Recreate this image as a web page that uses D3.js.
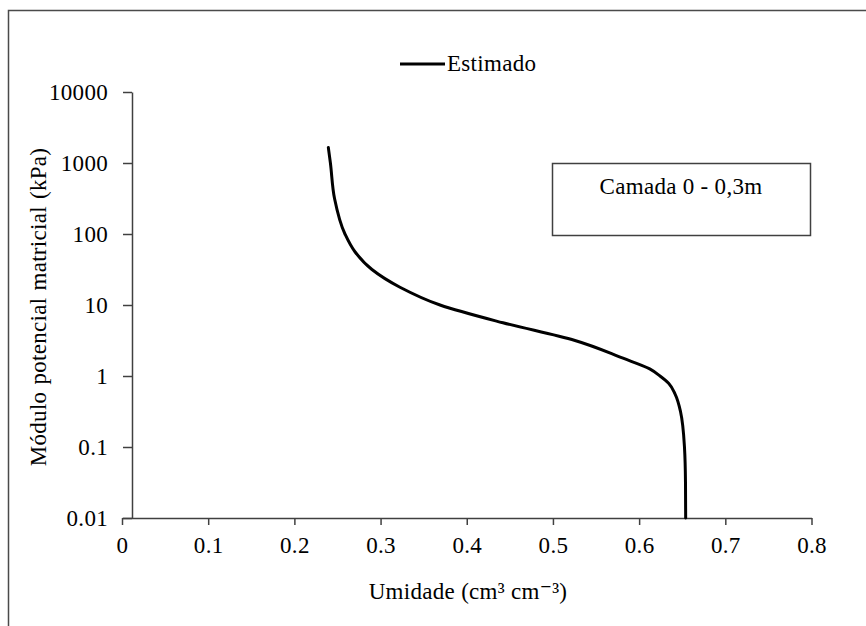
<!DOCTYPE html>
<html>
<head>
<meta charset="utf-8">
<script src="https://cdn.jsdelivr.net/npm/d3@7"></script>
<style>
  html, body { margin: 0; padding: 0; background: #fff; }
  svg { display: block; }
  svg text { font-family: "Times New Roman", "Liberation Serif", Tinos, "DejaVu Serif", "Noto Serif", serif !important; letter-spacing: 0.3px; }
</style>
</head>
<body>
<svg id="chart" width="866" height="626"></svg>
<script>
// Retention curve, layer 0 - 0.3 m: volumetric water content vs |matric potential|
const potencial = [1650, 1000, 316, 100, 56.2, 31.6, 17.8, 10, 5.62, 3.16,
                   1.78, 1.26, 1, 0.79, 0.56, 0.316, 0.1, 0.0316, 0.01];
const umidade   = [0.2394, 0.2418, 0.2466, 0.2587, 0.2703, 0.2900, 0.3225, 0.3690, 0.4420, 0.5256,
                   0.5813, 0.6123, 0.6242, 0.6342, 0.6416, 0.6480, 0.6526, 0.6538, 0.6540];

const xTicks = [0, 0.1, 0.2, 0.3, 0.4, 0.5, 0.6, 0.7, 0.8];
const yTicks = [0.01, 0.1, 1, 10, 100, 1000, 10000];
const yTickLabels = ["0.01", "0.1", "1", "10", "100", "1000", "10000"];
const yAxisCrossesAt = 0.0116;

const serieNome = "Estimado";
const camadaTexto = "Camada 0 - 0,3m";
const xTitulo = "Umidade (cm³ cm⁻³)";
const yTitulo = "Módulo potencial matricial (kPa)";

const svg = d3.select("#chart");
const axisColor = "#404040";
const fontSize = 23;

// outer frame
svg.append("rect")
  .attr("x", 8.5).attr("y", 10.5)
  .attr("width", 900).attr("height", 700)
  .attr("fill", "none").attr("stroke", "#4a4a4a").attr("stroke-width", 1.5);

const x = d3.scaleLinear().domain([0, 0.8]).range([122, 811.5]);
const y = d3.scaleLog().domain([0.01, 10000]).range([518, 92]);

// x axis
const xAxis = svg.append("g").attr("transform", `translate(0,${y(0.01)})`)
  .call(d3.axisBottom(x).tickValues(xTicks).tickFormat(d => String(d)).tickSize(7).tickSizeOuter(0));
xAxis.attr("font-family", null);
xAxis.select(".domain").attr("stroke", axisColor).attr("stroke-width", 1.5);
xAxis.selectAll(".tick line").attr("stroke", axisColor).attr("stroke-width", 1.5);
xAxis.selectAll(".tick text")
  .attr("fill", "#000").attr("font-size", fontSize)
  .attr("y", 0).attr("dy", null).attr("transform", "translate(0,35)");

// y axis
const yAxis = svg.append("g").attr("transform", `translate(${x(yAxisCrossesAt)},0)`)
  .call(d3.axisLeft(y).tickValues(yTicks).tickFormat((d, i) => yTickLabels[i]).tickSize(9).tickSizeOuter(0));
yAxis.attr("font-family", null);
yAxis.select(".domain").attr("stroke", axisColor).attr("stroke-width", 1.5);
yAxis.selectAll(".tick line").attr("stroke", axisColor).attr("stroke-width", 1.5);
yAxis.selectAll(".tick text")
  .attr("fill", "#000").attr("font-size", fontSize)
  .attr("x", -24).attr("dy", "0.33em");

// curve
const pts = umidade.map((u, i) => [u, potencial[i]]);
const line = d3.line().x(d => x(d[0])).y(d => y(d[1])).curve(d3.curveMonotoneY);
svg.append("path").datum(pts)
  .attr("d", line)
  .attr("fill", "none").attr("stroke", "#000").attr("stroke-width", 3)
  .attr("stroke-linecap", "round").attr("stroke-linejoin", "round");

// legend
svg.append("line")
  .attr("x1", 400).attr("x2", 445).attr("y1", 64).attr("y2", 64)
  .attr("stroke", "#000").attr("stroke-width", 3);
svg.append("text").attr("x", 447).attr("y", 71)
  .attr("font-size", fontSize).attr("fill", "#000").text(serieNome);

// layer annotation box
svg.append("rect")
  .attr("x", 552.5).attr("y", 163.5).attr("width", 258).attr("height", 72)
  .attr("fill", "#fff").attr("stroke", axisColor).attr("stroke-width", 1.5);
svg.append("text").attr("x", 681).attr("y", 194).attr("text-anchor", "middle")
  .attr("font-size", fontSize).attr("fill", "#000").text(camadaTexto);

// axis titles
svg.append("text").attr("x", 468).attr("y", 599).attr("text-anchor", "middle")
  .attr("font-size", fontSize).attr("fill", "#000").text(xTitulo);
svg.append("text")
  .attr("transform", "translate(46,307) rotate(-90)")
  .attr("text-anchor", "middle").attr("font-size", fontSize).attr("fill", "#000")
  .attr("word-spacing", "1px")
  .text(yTitulo);
</script>
</body>
</html>
